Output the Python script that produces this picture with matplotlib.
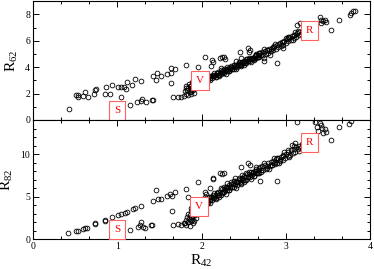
import matplotlib
matplotlib.use("Agg")
import matplotlib.pyplot as plt
from matplotlib.ticker import MultipleLocator, AutoMinorLocator

plt.rcParams['font.family'] = ['Liberation Serif', 'DejaVu Serif']
plt.rcParams['mathtext.fontset'] = 'custom'
plt.rcParams['mathtext.rm'] = 'Liberation Serif'
plt.rcParams['mathtext.it'] = 'Liberation Serif:italic'

# ---- top panel: R62 vs R42 ----
# scattered points (S branch, V cluster, outliers)
top_x = [0.43, 0.51, 0.53, 0.54, 0.59, 0.62, 0.65, 0.73, 0.74, 0.75, 0.86, 0.87,
         0.91, 0.94, 1.01, 1.04, 1.04, 1.08, 1.10, 1.11, 1.18, 1.21, 1.28,
         1.15, 1.24, 1.29, 1.28, 1.34, 1.41, 1.42, 1.66, 1.72, 1.76, 1.79, 1.81, 1.64,
         1.42, 1.46, 1.47, 1.52, 1.59, 1.64, 1.69, 1.64, 1.82,
         1.80, 1.81, 1.82, 1.83, 1.84, 1.84, 1.85, 1.86, 1.86, 1.87, 1.87, 1.88,
         1.88, 1.89, 1.89, 1.90, 1.90, 1.91, 1.91, 1.92, 1.92, 1.93, 1.94, 1.95,
         1.96, 2.04, 2.11, 2.12, 2.13, 2.22, 2.24, 2.26, 2.28, 2.23, 2.30, 2.41,
         2.46, 2.47, 2.55, 2.57, 2.56, 2.65, 2.68, 2.74, 2.74, 2.77, 2.82, 2.85,
         2.90, 2.93, 2.97, 3.00, 3.04, 3.09, 3.11, 3.13, 3.17, 3.40, 3.41, 3.44,
         3.48, 3.42, 3.46, 3.54, 3.63, 3.76, 3.79, 3.82, 3.77,
         2.74, 2.81, 2.87, 2.96, 3.02, 3.08, 3.14]
top_y = [0.83, 1.87, 1.77, 1.87, 1.85, 2.10, 1.77, 1.95, 2.27, 2.32, 1.97, 2.52,
         1.98, 2.68, 2.52, 2.47, 1.75, 2.50, 2.32, 2.88, 2.68, 3.08, 2.93,
         1.14, 1.36, 1.61, 1.42, 1.36, 1.55, 1.55, 1.72, 1.74, 1.74, 1.84, 2.42, 2.78,
         3.33, 3.03, 3.58, 3.33, 3.48, 3.58, 3.89, 3.94, 4.17,
         2.20, 2.00, 2.60, 2.30, 1.90, 2.45, 2.75, 2.10, 2.55, 2.35, 1.95, 2.60,
         2.20, 2.45, 2.90, 2.30, 2.60, 2.05, 2.50, 2.70, 2.40, 2.55, 2.75, 2.60,
         4.00, 4.75, 4.10, 4.55, 4.40, 4.70, 4.75, 4.80, 4.65, 3.96, 3.99, 4.49,
         5.18, 4.67, 5.43, 5.30, 5.18, 4.92, 5.05, 4.72, 4.49, 5.30, 5.38, 5.50,
         4.34, 5.81, 5.93, 6.19, 6.31, 6.44, 6.69, 7.20, 7.33, 7.83, 7.58, 7.50,
         7.40, 7.33, 7.58, 6.82, 7.58, 7.95, 8.26, 8.26, 8.08,
         5.35, 4.95, 5.75, 5.45, 6.30, 6.05, 6.75]

# main V -> R band
band_top_x = [1.90, 1.91, 1.92, 1.93, 1.94, 1.95, 1.96, 1.97, 1.98, 1.99,
              2.00, 2.01, 2.02, 2.03, 2.04, 2.05, 2.06, 2.07, 2.08, 2.09,
              2.10, 2.11, 2.12, 2.13, 2.14, 2.15, 2.16, 2.17, 2.18, 2.19,
              2.20, 2.21, 2.22, 2.23, 2.24, 2.25, 2.26, 2.27, 2.28, 2.29,
              2.30, 2.31, 2.32, 2.33, 2.34, 2.35, 2.36, 2.37, 2.38, 2.39,
              2.40, 2.41, 2.42, 2.43, 2.44, 2.45, 2.46, 2.47, 2.48, 2.49,
              2.50, 2.51, 2.52, 2.53, 2.54, 2.55, 2.56, 2.57, 2.58, 2.59,
              2.60, 2.61, 2.62, 2.63, 2.64, 2.65, 2.66, 2.67, 2.68, 2.69, 2.70,
              2.72, 2.73, 2.75, 2.76, 2.78, 2.79, 2.80, 2.82, 2.83, 2.85, 2.86,
              2.88, 2.89, 2.91, 2.92, 2.94, 2.95, 2.97, 2.98, 3.00, 3.01, 3.03,
              3.04, 3.06, 3.07, 3.09, 3.10, 3.12, 3.13, 3.15, 3.16, 3.18, 3.20,
              3.22, 3.24]
band_top_y = [2.75, 2.60, 2.75, 2.61, 2.89, 2.77, 2.89, 2.75, 2.88, 3.01,
              2.87, 2.98, 2.86, 3.11, 3.01, 3.17, 3.02, 3.17, 3.04, 3.32,
              3.20, 3.31, 3.17, 3.30, 3.44, 3.30, 3.41, 3.28, 3.53, 3.43,
              3.60, 3.44, 3.59, 3.46, 3.74, 3.61, 3.73, 3.59, 3.72, 3.85,
              3.71, 3.82, 3.70, 3.94, 3.84, 4.01, 3.86, 4.01, 3.88, 4.16,
              4.04, 4.16, 4.02, 4.15, 4.29, 4.15, 4.26, 4.14, 4.39, 4.29,
              4.46, 4.31, 4.46, 4.33, 4.61, 4.49, 4.61, 4.47, 4.60, 4.73,
              4.59, 4.70, 4.58, 4.83, 4.73, 4.90, 4.75, 4.90, 4.77, 5.04, 4.92,
              5.12, 4.90, 5.22, 5.00, 5.30, 5.10, 5.40, 5.20, 5.45, 5.30, 5.58,
              5.40, 5.65, 5.50, 5.78, 5.60, 5.90, 5.70, 6.00, 5.80, 6.12, 5.95,
              6.22, 6.05, 6.35, 6.18, 6.45, 6.30, 6.58, 6.45, 6.68, 6.55, 6.80,
              6.70, 6.95]
# second, wider layer of the dense part of the band
band2_x = [1.905, 1.925, 1.945, 1.965, 1.985, 2.005, 2.025, 2.045, 2.065, 2.085,
           2.105, 2.125, 2.145, 2.165, 2.185, 2.205, 2.225, 2.245, 2.265, 2.285,
           2.305, 2.325, 2.345, 2.365, 2.385, 2.405, 2.425, 2.445, 2.465, 2.485,
           2.505, 2.525, 2.545, 2.565, 2.585, 2.605, 2.625, 2.645, 2.665, 2.685]
band2_top_y = [2.49, 2.92, 2.73, 3.00, 2.67, 3.01, 2.87, 3.28, 3.03, 3.32,
               3.03, 3.32, 3.53, 3.24, 3.55, 3.33, 3.77, 3.57, 3.84, 3.51,
               3.85, 3.70, 4.12, 3.87, 4.16, 3.88, 4.17, 4.38, 4.10, 4.41,
               4.20, 4.64, 4.45, 4.72, 4.39, 4.73, 4.59, 5.01, 4.76, 5.04]

# ---- bottom panel: R82 vs R42 ----
bot_x = [0.42, 0.51, 0.53, 0.59, 0.62, 0.64, 0.74, 0.74, 0.85, 0.86, 0.94, 1.01,
         1.04, 1.09, 1.11, 1.19, 1.21, 1.28, 1.42, 1.46, 1.48, 1.52, 1.59, 1.63,
         1.65, 1.69, 1.82, 1.84, 1.96, 1.65,
         1.15, 1.25, 1.28, 1.30, 1.33, 1.27, 1.40, 1.41, 1.66, 1.72, 1.75, 1.79,
         1.80, 1.81, 1.82, 1.83, 1.84, 1.84, 1.85, 1.86, 1.86, 1.87, 1.87, 1.88,
         1.88, 1.89, 1.89, 1.90, 1.90, 1.91, 1.91, 1.92, 1.93, 1.93,
         2.04, 2.05, 2.10, 2.13, 2.14, 2.22, 2.24, 2.27, 2.30, 2.40, 2.47, 2.48,
         2.55, 2.57, 2.69, 2.71, 2.77, 2.83, 2.86, 2.90, 2.89, 2.93, 2.97, 3.02,
         3.07, 3.11, 3.13, 3.35, 3.37, 3.38, 3.42, 3.44, 3.48, 3.43, 3.54, 3.63,
         3.75, 3.77, 3.46, 3.40,
         2.74, 2.80, 2.86, 2.92, 2.98, 3.04, 3.10, 3.16, 3.22]
bot_y = [0.71, 0.94, 1.01, 1.21, 1.33, 1.37, 1.80, 1.88, 2.19, 2.31, 2.59, 2.86,
         2.98, 3.13, 3.25, 3.53, 3.65, 3.92, 4.51, 5.80, 4.71, 4.78, 5.09, 5.33,
         5.09, 5.56, 5.92, 4.94, 6.78, 3.37,
         1.13, 1.45, 2.00, 1.48, 1.29, 1.70, 1.68, 1.62, 1.72, 1.80, 1.72, 1.88,
         1.90, 2.30, 1.70, 2.60, 2.00, 3.00, 2.40, 1.60, 2.80, 3.30, 2.10, 2.60,
         3.70, 2.30, 3.00, 1.90, 2.70, 3.40, 2.20, 2.90, 3.20, 2.50,
         5.60, 5.33, 6.00, 7.25, 7.13, 7.76, 7.65, 7.76, 6.66, 7.25, 8.47, 7.56,
         8.94, 8.74, 6.86, 7.95, 8.62, 8.74, 9.01, 6.86, 9.53, 9.33, 9.72, 10.50,
         11.10, 11.30, 13.80, 13.80, 13.20, 12.70, 13.40, 12.50, 12.60, 13.06, 11.60, 13.20,
         13.56, 13.84, 12.90, 13.60,
         8.90, 8.20, 9.50, 8.90, 10.20, 9.60, 11.00, 10.40, 11.60]

band_bot_x = band_top_x[:81] + [2.72, 2.73, 2.75, 2.76, 2.78, 2.79, 2.81, 2.82,
                                2.84, 2.85, 2.87, 2.88, 2.90, 2.91, 2.93, 2.94,
                                2.96, 2.97, 2.99, 3.00, 3.02, 3.03, 3.05, 3.06,
                                3.08, 3.09, 3.11, 3.12, 3.14, 3.15, 3.17, 3.19,
                                3.21, 3.23]
band_bot_y = [3.75, 3.36, 3.72, 3.38, 4.06, 3.75, 4.04, 3.67, 3.98, 4.32,
              3.95, 4.21, 3.90, 4.50, 4.24, 4.65, 4.26, 4.62, 4.28, 4.96,
              4.65, 4.94, 4.58, 4.89, 5.23, 4.86, 5.13, 4.82, 5.42, 5.16,
              5.58, 5.19, 5.55, 5.21, 5.90, 5.59, 5.88, 5.51, 5.83, 6.17,
              5.80, 6.06, 5.76, 6.36, 6.10, 6.51, 6.11, 6.47, 6.13, 6.81,
              6.49, 6.78, 6.41, 6.72, 7.05, 6.68, 6.94, 6.63, 7.22, 6.96,
              7.37, 6.97, 7.33, 6.99, 7.67, 7.35, 7.64, 7.27, 7.58, 7.91,
              7.54, 7.80, 7.48, 8.07, 7.80, 8.21, 7.81, 8.16, 7.81, 8.48, 8.16,
              8.55, 8.10, 8.70, 8.30, 8.40, 8.95, 8.55, 9.05, 8.70, 9.20, 8.85,
              9.40, 9.00, 9.55, 9.20, 9.70, 9.35, 9.90, 9.55, 10.05, 9.75, 10.25,
              9.95, 10.45, 10.15, 10.60, 10.30, 10.80, 10.55, 11.00, 10.75, 11.20,
              10.95, 11.40]
band2_bot_y = [3.08, 4.15, 3.65, 4.29, 3.46, 4.28, 3.90, 4.92, 4.27, 4.96,
               4.23, 4.94, 5.43, 4.71, 5.45, 4.91, 5.98, 5.49, 6.13, 5.31,
               6.13, 5.76, 6.78, 6.12, 6.81, 6.07, 6.77, 7.25, 6.52, 7.25,
               6.70, 7.76, 7.26, 7.89, 7.06, 7.87, 7.48, 8.48, 7.82, 8.36]

# labelled regions: (label, x, y)
top_tags = [("S", 1.00, 0.75), ("V", 1.98, 3.00), ("R", 3.28, 6.80)]
bot_tags = [("S", 1.00, 1.20), ("V", 1.97, 3.90), ("R", 3.28, 11.40)]

fig = plt.figure(figsize=(3.74, 2.69), dpi=100)
ax1 = fig.add_axes([0.088, 0.554, 0.902, 0.4415])
ax2 = fig.add_axes([0.088, 0.1104, 0.902, 0.4435])

mk = dict(ls='none', marker='o', ms=3.4, mfc='none', mec='black', mew=0.6)

ax1.plot(top_x, top_y, **mk)
ax1.plot(band_top_x, band_top_y, **mk)
ax1.plot(band2_x, band2_top_y, **mk)
ax2.plot(bot_x, bot_y, **mk)
ax2.plot(band_bot_x, band_bot_y, **mk)
ax2.plot(band2_x, band2_bot_y, **mk)

for ax, tags in [(ax1, top_tags), (ax2, bot_tags)]:
    for lab, x, y in tags:
        ax.text(x, y, lab, color='red', fontsize=8, ha='center', va='center', zorder=5,
                bbox=dict(boxstyle='square,pad=0.45', fc='white', ec='#ff6060', lw=0.8))

ax1.set_xlim(0, 4)
ax1.set_ylim(0, 9)
ax2.set_xlim(0, 4)
ax2.set_ylim(0, 14)

ax1.yaxis.set_major_locator(MultipleLocator(2))
ax1.yaxis.set_minor_locator(MultipleLocator(1))
ax2.yaxis.set_major_locator(MultipleLocator(5))
ax2.yaxis.set_minor_locator(MultipleLocator(1))
for ax in (ax1, ax2):
    ax.xaxis.set_major_locator(MultipleLocator(1))
    ax.xaxis.set_minor_locator(AutoMinorLocator(3))
    ax.tick_params(which='both', direction='in', top=True, right=True,
                   labelsize=7, pad=2, width=0.7)
    ax.tick_params(which='major', length=4)
    ax.tick_params(which='minor', length=2.5)
    for s in ax.spines.values():
        s.set_linewidth(0.8)
ax1.tick_params(labelbottom=False)

ax1.set_ylabel(r'R$_{62}$', fontsize=11, labelpad=4)
ax2.set_ylabel(r'R$_{82}$', fontsize=11, labelpad=4)
ax2.set_xlabel(r'R$_{42}$', fontsize=11, labelpad=1)

fig.savefig('out.png', dpi=100)
